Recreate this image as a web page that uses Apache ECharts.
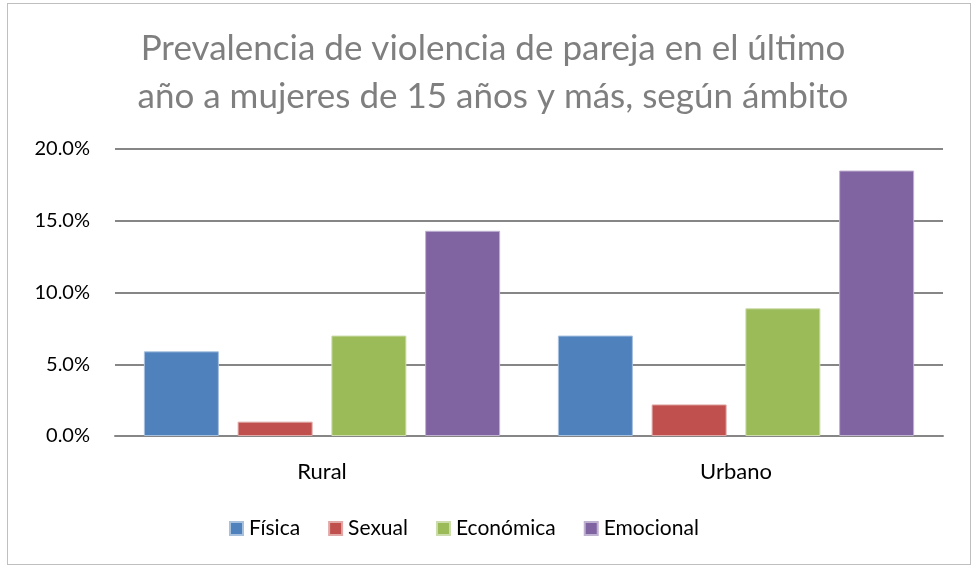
<!DOCTYPE html>
<html>
<head>
<meta charset="utf-8">
<script src="https://cdn.jsdelivr.net/npm/echarts@6/dist/echarts.min.js"></script>
<style>
  html, body { margin: 0; padding: 0; background: #ffffff; }
  #frame { position: absolute; left: 7px; top: 3px; width: 964px; height: 562px; border: 1px solid #bfbfbf; box-sizing: border-box; }
  #chart { width: 973px; height: 567px; }
</style>
</head>
<body>
<div id="chart"></div>
<div id="frame"></div>
<script>
// Prevalence (%) of partner violence in the last year, by area and type
const categories = ['Rural', 'Urbano'];
const seriesNames = ['Física', 'Sexual', 'Económica', 'Emocional'];
const fisica = [5.9, 7.0];
const sexual = [1.0, 2.2];
const economica = [7.0, 8.9];
const emocional = [14.3, 18.5];
const yTicks = [0, 5, 10, 15, 20];

const values = [fisica, sexual, economica, emocional];
const colors = ['#4f81bd', '#c0504d', '#9bbb59', '#8064a2'];
const edgeColors = ['#a7c0de', '#e0a8a6', '#cddcac', '#bfb1d0'];

const font = 'Lato, "Open Sans", sans-serif';

const chart = echarts.init(document.getElementById('chart'), null, { renderer: 'canvas' });
chart.setOption({
  backgroundColor: '#ffffff',
  animation: false,
  title: {
    text: 'Prevalencia de violencia de pareja en el último\naño a mujeres de 15 años y más, según ámbito',
    left: 488,
    textAlign: 'center',
    top: 20,
    textStyle: { fontFamily: font, fontSize: 35, fontWeight: 'normal', color: '#7f7f7f', lineHeight: 48 }
  },
  legend: {
    data: seriesNames,
    top: 513,
    left: 224,
    itemWidth: 13,
    itemHeight: 13,
    itemGap: 28,
    icon: 'rect',
    textStyle: { fontFamily: font, fontSize: 21, color: '#000000', padding: [0, 0, 0, 1] }
  },
  grid: { left: 115, right: 30, top: 149, bottom: 131, containLabel: false },
  xAxis: {
    type: 'category',
    data: categories,
    axisLine: { show: true, lineStyle: { color: '#868686', width: 2 } },
    axisTick: { show: false },
    axisLabel: { fontFamily: font, fontSize: 22, color: '#000000', margin: 25 }
  },
  yAxis: {
    type: 'value',
    min: yTicks[0],
    max: yTicks[yTicks.length - 1],
    interval: 5,
    axisLine: { show: false },
    axisTick: { show: false },
    splitLine: { lineStyle: { color: '#868686', width: 2 } },
    axisLabel: {
      fontFamily: font, fontSize: 20, color: '#000000', margin: 25,
      formatter: v => v.toFixed(1) + '%'
    }
  },
  series: seriesNames.map((name, i) => ({
    name: name,
    type: 'bar',
    data: values[i],
    barWidth: 75,
    barGap: '25%',
    itemStyle: { color: colors[i], borderColor: edgeColors[i], borderWidth: 1 }
  }))
});
</script>
</body>
</html>
